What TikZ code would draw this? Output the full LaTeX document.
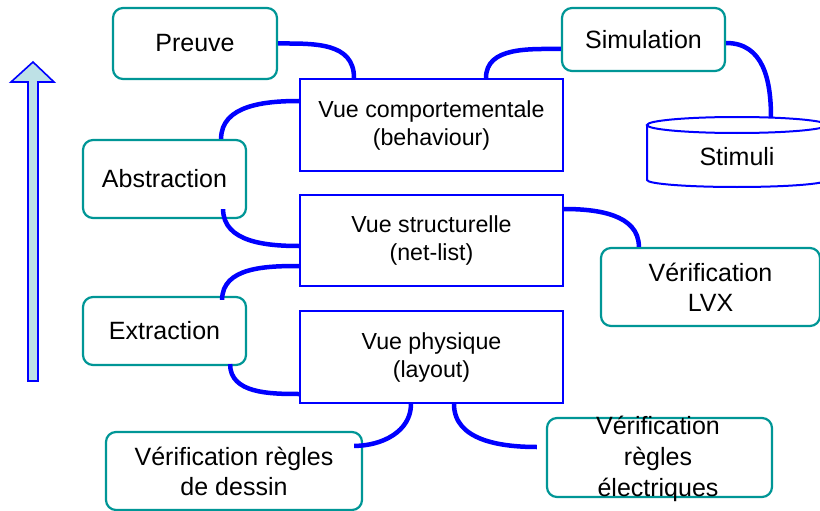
\documentclass[tikz,border=0pt]{standalone}
\usepackage{fontspec}
\setmainfont{Liberation Sans}
\usetikzlibrary{calc}
\definecolor{boxteal}{RGB}{0,150,150}
\definecolor{linkblue}{RGB}{0,0,255}
\definecolor{arrowfill}{RGB}{190,225,230}
\tikzset{
  tealbox/.style={draw=boxteal, line width=2.2pt, rounded corners=10pt, fill=white,
    inner sep=0pt, align=center, font=\fontsize{25}{30}\selectfont},
  viewbox/.style={draw=linkblue, line width=2pt, fill=white, inner sep=0pt,
    align=center, font=\fontsize{23.2}{28}\selectfont},
  link/.style={draw=linkblue, line width=4.5pt, line cap=butt},
  label25/.style={align=center, inner sep=0pt, font=\fontsize{25}{31}\selectfont},
}
\begin{document}
\begin{tikzpicture}[x=1pt, y=-1pt]
\useasboundingbox (0,0) rectangle (820,511);
\clip (0,0) rectangle (820,511);

% abstraction-level arrow on the left
\draw[draw=linkblue, line width=1.6pt, fill=arrowfill, line join=miter]
  (28,381) -- (28,82) -- (11,82) -- (33,62) -- (54,82) -- (38,82) -- (38,381) -- cycle;

% three views of the design
\node[viewbox, minimum width=263pt, minimum height=92pt] (vcomp) at (431.5,125)
  {Vue comportementale\\(behaviour)};
\node[viewbox, minimum width=263pt, minimum height=91pt] (vstruct) at (431.5,240.5)
  {Vue structurelle\\(net-list)};
\node[viewbox, minimum width=263pt, minimum height=92pt] (vphys) at (431.5,357)
  {Vue physique\\(layout)};

% tools and operations
\node[tealbox, minimum width=164pt, minimum height=71pt] (preuve) at (195,43.5) {Preuve};
\node[tealbox, minimum width=163pt, minimum height=63pt] (sim) at (643.5,39.5) {Simulation};
\node[tealbox, minimum width=163pt, minimum height=78pt] (abstr) at (164.5,179) {Abstraction};
\node[tealbox, minimum width=163pt, minimum height=68pt] (extr) at (164.5,331) {Extraction};
\node[tealbox, minimum width=219pt, minimum height=78pt] (lvx) at (710.5,287) {Vérification\\LVX};
\node[tealbox, minimum width=256pt, minimum height=78pt] (dessin) at (234,471)
  {Vérification règles\\de dessin};
\node[tealbox, minimum width=225pt, minimum height=79pt] (elec) at (659.5,457.5) {};
\node[label25] at (658,459) {Vérification\\règles\\électriques};

% stimuli database
\filldraw[draw=linkblue, line width=2pt, fill=white]
  (647,125) -- (647,180) arc[start angle=180, end angle=360, x radius=90pt, y radius=7pt]
  -- (827,125);
\draw[draw=linkblue, line width=2pt, fill=white] (737,125) ellipse [x radius=90pt, y radius=8pt];
\coordinate (stimtop) at (771,117.6);
\node[label25] (stimuli) at (737,157) {Stimuli};

% links between views and tools
\draw[link] (preuve.east) to[out=0, in=90, looseness=1.1] ([xshift=55pt]vcomp.north west);
\draw[link] ([yshift=-9.5pt]sim.west) to[out=180, in=90] ([xshift=-78pt]vcomp.north east);
\draw[link] ([yshift=-3.5pt]sim.east) to[out=0, in=90, looseness=1.1] (stimtop);
\draw[link] ([xshift=-26pt]abstr.north east) to[out=90, in=180] ([yshift=-23pt]vcomp.north west);
\draw[link] ([xshift=-24pt, yshift=10pt]abstr.south east) to[out=-90, in=180] ([yshift=-52pt]vstruct.north west);
\draw[link] ([yshift=-15pt]vstruct.north east) to[out=0, in=90] ([xshift=39pt]lvx.north west);
\draw[link] ([xshift=-25pt, yshift=-4pt]extr.north east) to[out=90, in=180] ([yshift=21pt]vstruct.south west);
\draw[link] ([xshift=-17pt, yshift=2pt]extr.south east) to[out=-90, in=180] ([yshift=10pt]vphys.south west);
\draw[link] ([xshift=112pt]vphys.south west) to[out=-90, in=0] ([xshift=-9pt, yshift=-15pt]dessin.north east);
\draw[link] ([xshift=155pt]vphys.south west) to[out=-90, in=180] ([xshift=-9pt, yshift=10.5pt]elec.west);
\end{tikzpicture}
\end{document}
